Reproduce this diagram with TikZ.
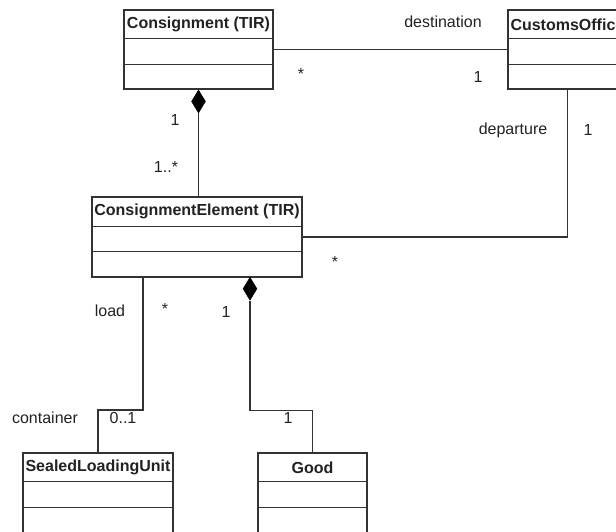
\documentclass[tikz,border=0pt]{standalone}
\usepackage{fontspec}
\setmainfont{Liberation Sans}
\usetikzlibrary{shapes.geometric,calc}
\definecolor{ln}{HTML}{333333}
\definecolor{tx}{HTML}{222222}
\tikzset{
  cls/.style={draw=ln, line width=1.4pt, rectangle, inner sep=0pt, fill=white},
  ttl/.style={font=\fontsize{16}{19}\selectfont\bfseries, text=tx, inner sep=0pt},
  lbl/.style={font=\fontsize{16}{19}\selectfont, text=tx, inner sep=0pt},
  conn/.style={draw=ln, line width=1.4pt},
  diam/.style={diamond, fill=black, draw=black, inner sep=0pt, minimum width=14pt, minimum height=23pt, line width=0.5pt}
}
\begin{document}
\begin{tikzpicture}[x=1pt,y=1pt]
\useasboundingbox (0,0) rectangle (616,-531);
\clip (0,0) rectangle (616,-531);
% classes
\node[cls, minimum width=149pt, minimum height=79pt] (cons) at (198.5,-49.5) {};
\node[cls, minimum width=119pt, minimum height=79pt] (cust) at (567.5,-49.5) {};
\node[cls, minimum width=210pt, minimum height=80pt] (ce) at (197,-237) {};
\node[cls, minimum width=150pt, minimum height=90pt] (slu) at (98,-498) {};
\node[cls, minimum width=109pt, minimum height=90pt] (good) at (312.5,-498) {};
% dividers
\foreach \n/\a/\b in {cons/29/55, cust/29/55, ce/30/55, slu/29/55, good/29/55}{
  \draw[conn] ([yshift=-\a pt]\n.north west) -- ([yshift=-\a pt]\n.north east);
  \draw[conn] ([yshift=-\b pt]\n.north west) -- ([yshift=-\b pt]\n.north east);
}
% titles
\node[ttl] (tcons) at ([yshift=-15pt]cons.north) {Consignment (TIR)};
\node[ttl, anchor=west] (tcust) at ([shift={(3pt,-15pt)}]cust.north west) {CustomsOffice};
\node[ttl] (tce) at ([yshift=-15pt]ce.north) {ConsignmentElement (TIR)};
\node[ttl] (tslu) at ([yshift=-15pt]slu.north) {SealedLoadingUnit};
\node[ttl] (tgood) at ([yshift=-15pt]good.north) {Good};
% composition diamonds
\node[diam, anchor=north] (d1) at (cons.south) {};
\node[diam, anchor=north] (d2) at (250,-277) {};
\coordinate (ld) at (143,-277);
% connectors
\draw[conn] (cons.east) -- (cust.west);
\draw[conn] (d1.south) -- (d1.south |- ce.north);
\draw[conn] (cust.south) |- (ce.east);
\draw[conn] (ld) -- ++(0,-133) -| (slu.north);
\draw[conn] (d2.south) -- ++(0,-110) -| (good.north);
% labels
\node[lbl] (l1) at (443,-22) {destination};
\node[lbl] (l2) at (301,-74) {*};
\node[lbl] (l3) at (478,-77) {1};
\node[lbl] (l4) at (175,-120) {1};
\node[lbl] (l5) at (166,-167) {1..*};
\node[lbl] (l6) at (513,-130) {departure};
\node[lbl] (l7) at (588,-130) {1};
\node[lbl] (l8) at (335,-262) {*};
\node[lbl] (l9) at (110,-311) {load};
\node[lbl] (l10) at (165,-309) {*};
\node[lbl] (l11) at (226,-312) {1};
\node[lbl] (l12) at (45,-418) {container};
\node[lbl] (l13) at (123,-418) {0..1};
\node[lbl] (l14) at (288,-418) {1};
\end{tikzpicture}
\end{document}
